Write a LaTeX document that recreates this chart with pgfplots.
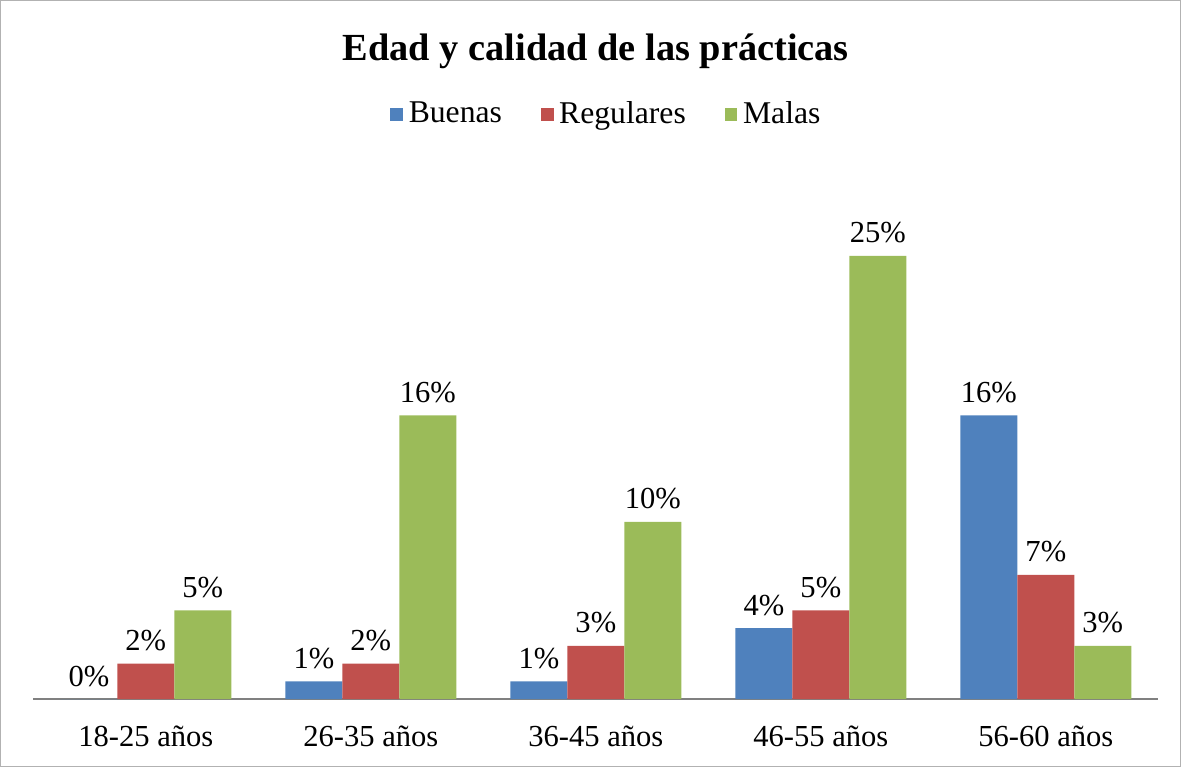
\documentclass[border=0pt]{standalone}
\usepackage{pgfplots}
\pgfplotsset{compat=1.18}
\usepackage{fontspec}
\setmainfont{Liberation Serif}
\definecolor{buenas}{HTML}{4F81BD}
\definecolor{regulares}{HTML}{C0504D}
\definecolor{malas}{HTML}{9BBB59}
\begin{document}
\begin{tikzpicture}[x=0.36pt,y=0.36pt]
% outer frame of the chart (pixel units)
\draw[gray!60, line width=0.36pt] (0.5,0.5) rectangle (1180.5,766.5);
\begin{axis}[
    at={(12.0pt,24.48pt)}, anchor=south west,
    scale only axis,
    width=405pt, height=191.4pt,
    ymin=0, ymax=30,
    xmin=-0.5, xmax=4.5,
    ybar=0pt, bar width=20.5pt,
    hide y axis,
    axis x line*=bottom,
    x axis line style={gray, -},
    xtick=data,
    xticklabels={18-25 años, 26-35 años, 36-45 años, 46-55 años, 56-60 años},
    major tick length=0pt,
    xticklabel style={font=\fontsize{11}{13}\selectfont, yshift=-6.3pt},
    /pgf/number format/assume math mode=true,
    nodes near coords={\pgfmathprintnumber{\pgfplotspointmeta}\%},
    nodes near coords style={font=\fontsize{11}{13}\selectfont, black, yshift=1pt},
    title={Edad y calidad de las prácticas},
    title style={font=\fontsize{13.8}{16}\selectfont\bfseries, at={(0.5,1.187)}, anchor=center},
    legend columns=3,
    legend style={draw=none, font=\fontsize{11.4}{13}\selectfont, at={(0.511,1.1)}, anchor=center,
        /tikz/every even column/.append style={column sep=12pt}},
    legend image code/.code={\fill[#1] (0.4pt,-2.3pt) rectangle (5.0pt,2.3pt);},
]
\addplot[fill=buenas, draw=none] coordinates {(0,0) (1,1) (2,1) (3,4) (4,16)};
\addlegendentry{Buenas}
\addplot[fill=regulares, draw=none] coordinates {(0,2) (1,2) (2,3) (3,5) (4,7)};
\addlegendentry{Regulares}
\addplot[fill=malas, draw=none] coordinates {(0,5) (1,16) (2,10) (3,25) (4,3)};
\addlegendentry{Malas}
\end{axis}
\end{tikzpicture}
\end{document}
